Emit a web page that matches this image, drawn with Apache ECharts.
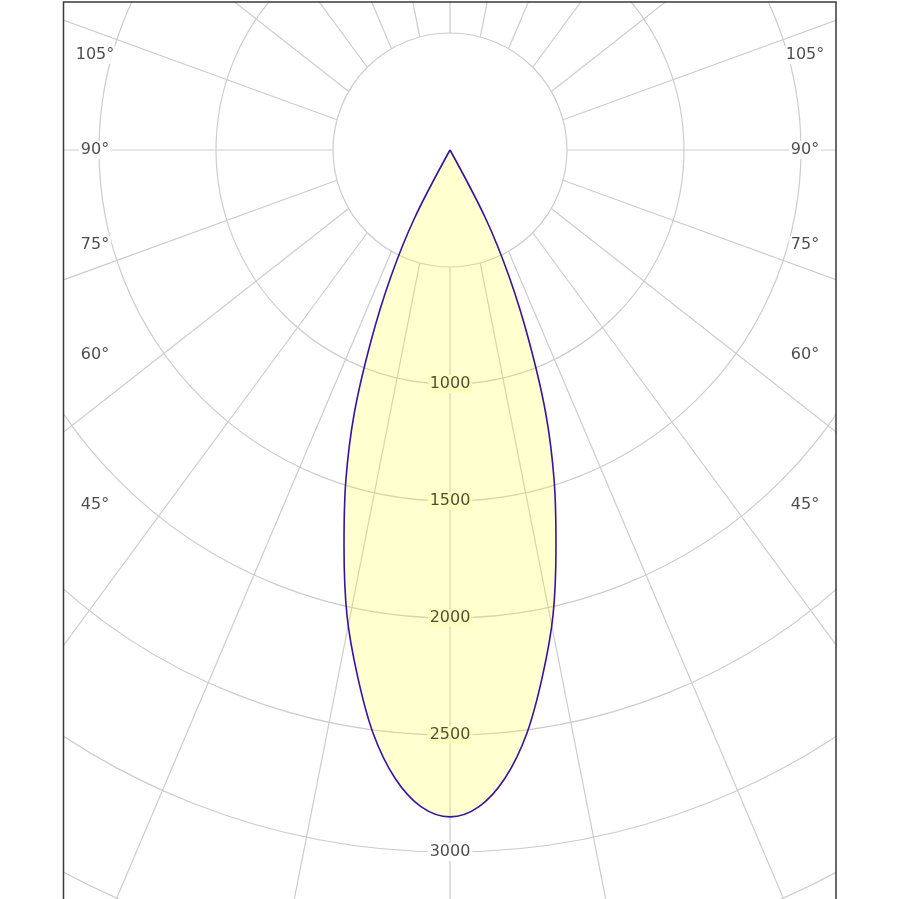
<!DOCTYPE html>
<html><head><meta charset="utf-8">
<script src="https://cdn.jsdelivr.net/npm/echarts@6/dist/echarts.min.js"></script>
<style>html,body{margin:0;padding:0;background:#fff}#c{width:899px;height:899px}</style>
</head><body><div id="c"></div>
<script>
// Luminous intensity (cd) at gamma angles (deg), symmetric beam
const curveAngles = [0, 2.5, 5, 7.5, 10, 12.5, 15, 17.5, 20, 22.5, 25, 27.5, 30];
const curveValues = [2850, 2810, 2695, 2515, 2280, 2035, 1750, 1480, 1195, 880, 600, 330, 0];
const radiusTicks = [1000, 1500, 2000, 2500, 3000];
const angleLabels = [45, 60, 75, 90, 105];
const spokeAngles = [0, 15, 30, 45, 60, 75, 90, 105, 120, 135, 150, 165, 180,
                     195, 210, 225, 240, 255, 270, 285, 300, 315, 330, 345];

const HOLE = 500;        // radius (cd) of the blank centre
const RMAX = 4000;
const PX_PER_CD = 0.234;
const K = 1.35;          // spoke stretch of the original grid
const FAR = 20000;
const LABEL_DX = 355;    // horizontal offset of angle labels (px)
const FILL_ALPHA = 0.27;
const FILL_ON_WHITE = 'rgb(255,255,' + Math.round(255 * (1 - FILL_ALPHA)) + ')';
const GRID = '#cdcdcd';

const chart = echarts.init(document.getElementById('c'), null, {renderer: 'canvas'});

// curve: right half then left half
const curveData = [];
for (let i = curveAngles.length - 1; i >= 1; i--) curveData.push([curveValues[i], 360 - curveAngles[i]]);
curveData.push([curveValues[0], 0]);
for (let i = 1; i < curveAngles.length; i++) curveData.push([curveValues[i], curveAngles[i]]);

const angleLabelData = [];
angleLabels.forEach(a => {
  const r = LABEL_DX / PX_PER_CD / Math.sin(a * Math.PI / 180);
  angleLabelData.push([r, a, a + '°']);
  angleLabelData.push([r, 360 - a, a + '°']);
});

const labelStyle = {
  show: true, position: 'inside', fontFamily: 'DejaVu Sans', fontSize: 16,
  color: '#1e1e1e', backgroundColor: '#fff', padding: [1, 2]
};

chart.setOption({
  animation: false,
  backgroundColor: '#fff',
  polar: {center: [450, 150], radius: RMAX * PX_PER_CD},
  angleAxis: {
    type: 'value', min: 0, max: 360, startAngle: 270, clockwise: true,
    axisLine: {show: false}, axisTick: {show: false}, axisLabel: {show: false}, splitLine: {show: false}
  },
  radiusAxis: {
    type: 'value', min: 0, max: RMAX, interval: 500,
    axisLine: {show: false}, axisTick: {show: false}, axisLabel: {show: false},
    splitLine: {show: true, lineStyle: {color: GRID, width: 1.2}}
  },
  series: [
    {
      type: 'custom', coordinateSystem: 'polar', z: 1, silent: true,
      data: spokeAngles.map(a => [HOLE, a]),
      renderItem: (params, api) => {
        const a = api.value(1);
        const t = a * Math.PI / 180;
        const p0 = api.coord([HOLE, a]);
        const ex = Math.sin(t) * FAR, ey = K * Math.cos(t) * FAR;
        const rr = Math.hypot(ex, ey);
        let aa = Math.atan2(ex, ey) * 180 / Math.PI;
        if (aa < 0) aa += 360;
        const p1 = api.coord([rr, aa]);
        return {type: 'line', shape: {x1: p0[0], y1: p0[1], x2: p1[0], y2: p1[1]},
                style: {stroke: GRID, lineWidth: 1.2}};
      }
    },
    {
      type: 'line', coordinateSystem: 'polar', z: 2, silent: true, clip: false,
      showSymbol: false, symbol: 'none', smooth: 0.35,
      data: curveData,
      lineStyle: {color: '#3712a3', width: 1.6},
      areaStyle: {color: 'rgba(255,255,0,' + FILL_ALPHA + ')'}
    },
    {
      type: 'scatter', coordinateSystem: 'polar', z: 3, silent: true, symbolSize: 0,
      data: radiusTicks.map(v => ({
        value: [v, 0],
        label: {backgroundColor: v < curveValues[0] ? FILL_ON_WHITE : '#fff'}
      })),
      label: Object.assign({}, labelStyle, {formatter: p => String(p.value[0])})
    },
    {
      type: 'scatter', coordinateSystem: 'polar', z: 3, silent: true, symbolSize: 0,
      data: angleLabelData,
      label: Object.assign({}, labelStyle, {formatter: p => p.value[2]})
    }
  ],
  graphic: [
    {type: 'rect', z: 100, silent: true, shape: {x: 0, y: 0, width: 63, height: 899}, style: {fill: '#fff'}},
    {type: 'rect', z: 100, silent: true, shape: {x: 837, y: 0, width: 62, height: 899}, style: {fill: '#fff'}},
    {type: 'rect', z: 100, silent: true, shape: {x: 0, y: 0, width: 899, height: 1.5}, style: {fill: '#fff'}},
    {type: 'rect', z: 101, silent: true, shape: {x: 63.5, y: 2, width: 772.5, height: 1000},
     style: {fill: 'none', stroke: '#3a3a3a', lineWidth: 1.5}}
  ]
});
</script>
</body></html>
